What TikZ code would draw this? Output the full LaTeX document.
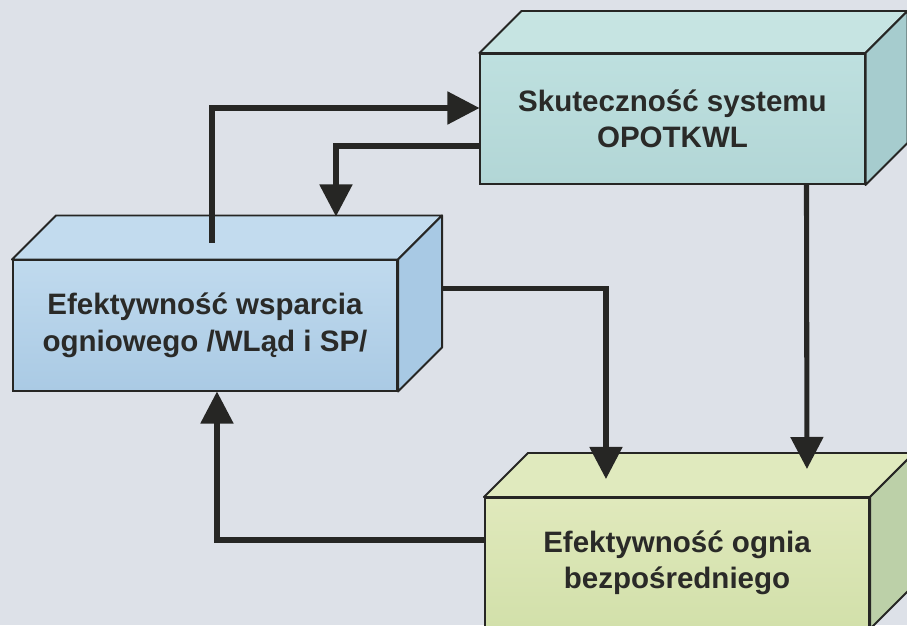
\documentclass[tikz,border=0pt]{standalone}
\usepackage{fontspec}
\setmainfont{Liberation Sans}
\usepackage{xcolor}
\usetikzlibrary{positioning,calc,arrows.meta}
\definecolor{tlo}{RGB}{221,225,232}
\definecolor{ramka}{RGB}{38,38,36}
\definecolor{napis}{RGB}{42,42,40}
\definecolor{morskiA}{RGB}{190,224,223}
\definecolor{morskiB}{RGB}{178,214,214}
\definecolor{morskiG}{RGB}{198,228,226}
\definecolor{morskiS}{RGB}{166,204,206}
\definecolor{niebA}{RGB}{192,218,238}
\definecolor{niebB}{RGB}{170,202,228}
\definecolor{niebG}{RGB}{194,219,238}
\definecolor{niebS}{RGB}{168,201,228}
\definecolor{zielA}{RGB}{224,233,188}
\definecolor{zielB}{RGB}{210,224,170}
\definecolor{zielG}{RGB}{224,234,190}
\definecolor{zielS}{RGB}{188,208,168}

\begin{document}
\begin{tikzpicture}[x=0.025cm,y=-0.025cm,
    blok/.style={draw=ramka,line width=1.4pt,minimum width=9.6cm,minimum height=3.25cm,
        inner sep=0pt,align=center,text=napis,font=\fontsize{21}{26}\selectfont\bfseries},
    sciana/.style={draw=ramka,line width=1.4pt,line join=round},
    strz/.style={draw=ramka,line width=3.6pt,-{Triangle[length=0.8cm,width=0.8cm]}}]
    % tlo i kadr
    \fill[tlo] (0,0) rectangle (907,625);
    \clip (0,0) rectangle (907,625);
    % bloki (przednie sciany)
    \node[blok,top color=morskiA,bottom color=morskiB] (skut) at (672.5,119)
        {Skuteczność systemu\\OPOTKWL};
    \node[blok,top color=niebA,bottom color=niebB] (wsp) at (205,325.5)
        {Efektywność wsparcia\\ogniowego /WLąd i SP/};
    \node[blok,top color=zielA,bottom color=zielB] (ogien) at (677,563)
        {Efektywność ognia\\bezpośredniego};
    % gorne i boczne sciany
    \draw[sciana,fill=morskiG] (skut.north west) -- ++(42,-42) -- ($(skut.north east)+(42,-42)$) -- (skut.north east) -- cycle;
    \draw[sciana,fill=morskiS] (skut.north east) -- ++(42,-42) -- ($(skut.south east)+(42,-42)$) -- (skut.south east) -- cycle;
    \draw[sciana,fill=niebG] (wsp.north west) -- ++(44,-44) -- ($(wsp.north east)+(44,-44)$) -- (wsp.north east) -- cycle;
    \draw[sciana,fill=niebS] (wsp.north east) -- ++(44,-44) -- ($(wsp.south east)+(44,-44)$) -- (wsp.south east) -- cycle;
    \draw[sciana,fill=zielG] (ogien.north west) -- ++(44,-44) -- ($(ogien.north east)+(44,-44)$) -- (ogien.north east) -- cycle;
    \draw[sciana,fill=zielS] (ogien.north east) -- ++(44,-44) -- ($(ogien.south east)+(44,-44)$) -- (ogien.south east) -- cycle;
    % polaczenia
    \draw[strz] ($(wsp.north west)+(200,-17)$) |- ($(skut.west)+(0,-11)$);
    \draw[strz] ($(skut.west)+(0,27)$) -| ($(wsp.north west)+(324,-43)$);
    \draw[strz] ($(wsp.east)+(43,-37)$) -| ($(ogien.north west)+(122,-18)$);
    \draw[strz] ($(skut.south west)+(327,0)$) -- ($(ogien.north west)+(323,-28)$);
    \draw[strz] ($(ogien.west)+(0,-23)$) -| ($(wsp.south west)+(205,0)$);
\end{tikzpicture}
\end{document}
